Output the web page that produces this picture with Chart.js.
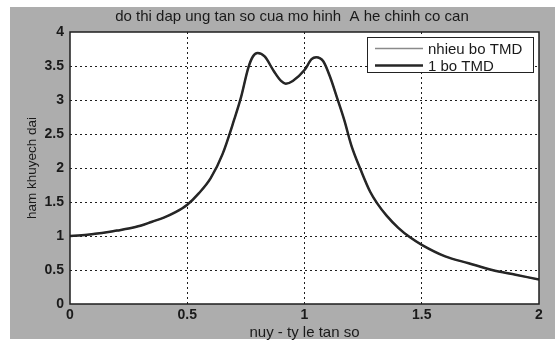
<!DOCTYPE html>
<html>
<head>
<meta charset="utf-8">
<script src="https://cdn.jsdelivr.net/npm/chart.js@4"></script>
<style>
  html, body { margin: 0; padding: 0; background: #fff; }
  #wrap { width: 555px; height: 342px; }
</style>
</head>
<body>
<div id="wrap"><canvas id="dapung" width="555" height="342"></canvas></div>
<script>
// ti so tan so nuy va ham khuyech dai
const nuy = [0, 0.05, 0.1, 0.15, 0.2, 0.25, 0.3, 0.35, 0.4, 0.45, 0.5, 0.55, 0.6, 0.65, 0.7,
  0.73, 0.76, 0.78, 0.8, 0.83, 0.87, 0.9, 0.92, 0.95, 1.0, 1.03, 1.05, 1.08, 1.11, 1.14,
  1.17, 1.2, 1.24, 1.28, 1.31, 1.35, 1.4, 1.45, 1.5, 1.6, 1.7, 1.8, 1.9, 2.0];
const nhieuBoTMD = [1.0, 1.01, 1.03, 1.05, 1.08, 1.11, 1.15, 1.21, 1.27, 1.35, 1.46, 1.63, 1.85, 2.2, 2.71,
  3.05, 3.47, 3.64, 3.69, 3.64, 3.42, 3.28, 3.24, 3.28, 3.44, 3.6, 3.63, 3.57, 3.33, 3.02,
  2.7, 2.33, 1.97, 1.65, 1.48, 1.3, 1.12, 0.98, 0.87, 0.7, 0.6, 0.5, 0.43, 0.36];
const motBoTMD = [1.0, 1.01, 1.03, 1.05, 1.08, 1.11, 1.15, 1.21, 1.27, 1.35, 1.46, 1.63, 1.85, 2.2, 2.71,
  3.05, 3.47, 3.64, 3.69, 3.64, 3.42, 3.28, 3.24, 3.28, 3.44, 3.6, 3.63, 3.57, 3.33, 3.02,
  2.7, 2.33, 1.97, 1.65, 1.48, 1.3, 1.12, 0.98, 0.87, 0.7, 0.6, 0.5, 0.43, 0.36];
const tenDuong = ["nhieu bo TMD", "1 bo TMD"];
const xTicks = [0, 0.5, 1, 1.5, 2];
const yTicks = [0, 0.5, 1, 1.5, 2, 2.5, 3, 3.5, 4];

const tieuDe = "do thi dap ung tan so cua mo hinh  A he chinh co can";
const FONT = "'Liberation Sans', Arial, sans-serif";

const toDiem = (ys) => nuy.map((x, i) => ({ x: x, y: ys[i] }));
const nhan = (v) => String(v);

// nen xam kieu figure matlab + khung + tieu de + chu thich
const khungPlugin = {
  id: "khung",
  beforeDraw(chart) {
    const { ctx, chartArea: a } = chart;
    ctx.save();
    ctx.fillStyle = "#ffffff";
    ctx.fillRect(0, 0, chart.width, chart.height);
    ctx.fillStyle = "#adadad";
    ctx.fillRect(10, 7, chart.width - 10, 332);
    ctx.fillStyle = "#ffffff";
    ctx.fillRect(a.left, a.top, a.right - a.left, a.bottom - a.top);
    ctx.restore();
  },
  afterDraw(chart) {
    const { ctx, chartArea: a } = chart;
    ctx.save();
    ctx.strokeStyle = "#1e1e1e";
    ctx.lineWidth = 1.5;
    ctx.strokeRect(a.left, a.top, a.right - a.left, a.bottom - a.top);

    ctx.fillStyle = "#1a1a1a";
    ctx.font = "15px " + FONT;
    ctx.textAlign = "center";
    ctx.textBaseline = "middle";
    ctx.fillText(tieuDe, 292, 17);

    // hop chu thich
    const bx = 367, by = 37, bw = 166, bh = 35;
    ctx.fillStyle = "#ffffff";
    ctx.fillRect(bx, by, bw, bh);
    ctx.strokeStyle = "#222";
    ctx.lineWidth = 1;
    ctx.strokeRect(bx + 0.5, by + 0.5, bw, bh);
    ctx.textAlign = "left";
    ctx.font = "15px " + FONT;
    chart.data.datasets.forEach((ds, i) => {
      const y = by + 11.5 + i * 17;
      ctx.strokeStyle = ds.borderColor;
      ctx.lineWidth = ds.borderWidth;
      ctx.beginPath();
      ctx.moveTo(bx + 8, y);
      ctx.lineTo(bx + 56, y);
      ctx.stroke();
      ctx.fillStyle = "#1a1a1a";
      ctx.fillText(ds.label, bx + 61, y + 1);
    });
    ctx.restore();
  }
};

new Chart(document.getElementById("dapung"), {
  type: "line",
  data: {
    datasets: [
      {
        label: tenDuong[0],
        data: toDiem(nhieuBoTMD),
        borderColor: "#8a8a8a",
        borderWidth: 1.5,
        order: 2
      },
      {
        label: tenDuong[1],
        data: toDiem(motBoTMD),
        borderColor: "#262626",
        borderWidth: 2.5,
        order: 1
      }
    ]
  },
  options: {
    responsive: false,
    animation: false,
    events: [],
    elements: {
      point: { radius: 0 },
      line: { cubicInterpolationMode: "monotone", fill: false }
    },
    layout: { padding: { top: 32, right: 16, left: 24, bottom: 0 } },
    plugins: {
      legend: { display: false },
      title: { display: false },
      tooltip: { enabled: false }
    },
    scales: {
      x: {
        type: "linear",
        min: 0,
        max: 2,
        afterBuildTicks: (s) => { s.ticks = xTicks.map((v) => ({ value: v })); },
        afterFit: (s) => { s.height = 38; },
        grid: {
          color: "#1e1e1e",
          lineWidth: (c) => (c.tick && (c.tick.value === 0 || c.tick.value === 2) ? 0 : 1),
          drawTicks: false
        },
        border: { display: false, dash: [2, 3] },
        ticks: {
          color: "#1a1a1a",
          padding: 3,
          callback: nhan,
          font: { family: FONT, size: 14, weight: "bold" }
        },
        title: {
          display: true,
          text: "nuy - ty le tan so",
          color: "#1a1a1a",
          padding: { top: 0, bottom: 0 },
          font: { family: FONT, size: 15 }
        }
      },
      y: {
        type: "linear",
        min: 0,
        max: 4,
        afterBuildTicks: (s) => { s.ticks = yTicks.map((v) => ({ value: v })); },
        afterFit: (s) => { s.width = 46; },
        grid: {
          color: "#1e1e1e",
          lineWidth: (c) => (c.tick && (c.tick.value === 0 || c.tick.value === 4) ? 0 : 1),
          drawTicks: false
        },
        border: { display: false, dash: [2, 3] },
        ticks: {
          color: "#1a1a1a",
          padding: 6,
          callback: nhan,
          font: { family: FONT, size: 14, weight: "bold" }
        },
        title: {
          display: true,
          text: "ham khuyech dai",
          color: "#1a1a1a",
          padding: { top: 0, bottom: 0 },
          font: { family: FONT, size: 13.5 }
        }
      }
    }
  },
  plugins: [khungPlugin]
});
</script>
</body>
</html>
